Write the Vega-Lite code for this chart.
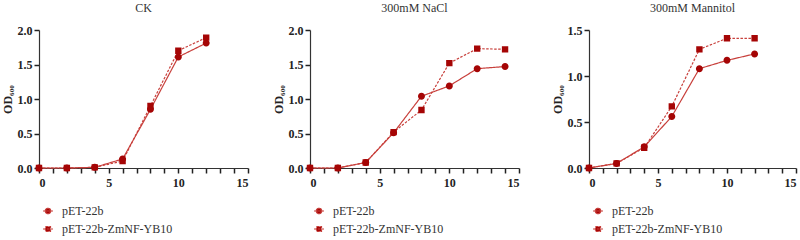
{
  "$schema": "https://vega.github.io/schema/vega-lite/v6.json",
  "padding": {"left": 1, "top": 2, "right": 2, "bottom": 0},
  "background": "white",
  "config": {
    "view": {"stroke": null},
    "title": {"font": "Liberation Serif", "fontSize": 12, "fontWeight": "normal", "color": "#333", "offset": 9},
    "legend": {"title": null, "orient": "bottom", "direction": "vertical", "offset": 14, "padding": 3, "labelFont": "Liberation Serif", "labelFontSize": 12, "labelColor": "#333",
      "symbolSize": 100, "symbolFillColor": "#a50505", "symbolStrokeColor": "#c8403c", "symbolStrokeWidth": 1.2, "symbolOpacity": 1, "rowPadding": 6, "labelOffset": 8}
  },
  "data": {"values": [
    {"cond": "CK", "series": "pET-22b", "t": 0, "od": 0},
    {"cond": "CK", "series": "pET-22b", "t": 2, "od": 0},
    {"cond": "CK", "series": "pET-22b", "t": 4, "od": 0.01},
    {"cond": "CK", "series": "pET-22b", "t": 6, "od": 0.13},
    {"cond": "CK", "series": "pET-22b", "t": 8, "od": 0.85},
    {"cond": "CK", "series": "pET-22b", "t": 10, "od": 1.61},
    {"cond": "CK", "series": "pET-22b", "t": 12, "od": 1.81},
    {"cond": "CK", "series": "pET-22b-ZmNF-YB10", "t": 0, "od": 0},
    {"cond": "CK", "series": "pET-22b-ZmNF-YB10", "t": 2, "od": 0},
    {"cond": "CK", "series": "pET-22b-ZmNF-YB10", "t": 4, "od": 0.01},
    {"cond": "CK", "series": "pET-22b-ZmNF-YB10", "t": 6, "od": 0.10},
    {"cond": "CK", "series": "pET-22b-ZmNF-YB10", "t": 8, "od": 0.90},
    {"cond": "CK", "series": "pET-22b-ZmNF-YB10", "t": 10, "od": 1.70},
    {"cond": "CK", "series": "pET-22b-ZmNF-YB10", "t": 12, "od": 1.89},
    {"cond": "NaCl", "series": "pET-22b", "t": 0, "od": 0},
    {"cond": "NaCl", "series": "pET-22b", "t": 2, "od": 0},
    {"cond": "NaCl", "series": "pET-22b", "t": 4, "od": 0.08},
    {"cond": "NaCl", "series": "pET-22b", "t": 6, "od": 0.51},
    {"cond": "NaCl", "series": "pET-22b", "t": 8, "od": 1.04},
    {"cond": "NaCl", "series": "pET-22b", "t": 10, "od": 1.19},
    {"cond": "NaCl", "series": "pET-22b", "t": 12, "od": 1.44},
    {"cond": "NaCl", "series": "pET-22b", "t": 14, "od": 1.47},
    {"cond": "NaCl", "series": "pET-22b-ZmNF-YB10", "t": 0, "od": 0},
    {"cond": "NaCl", "series": "pET-22b-ZmNF-YB10", "t": 2, "od": 0},
    {"cond": "NaCl", "series": "pET-22b-ZmNF-YB10", "t": 4, "od": 0.08},
    {"cond": "NaCl", "series": "pET-22b-ZmNF-YB10", "t": 6, "od": 0.52},
    {"cond": "NaCl", "series": "pET-22b-ZmNF-YB10", "t": 8, "od": 0.84},
    {"cond": "NaCl", "series": "pET-22b-ZmNF-YB10", "t": 10, "od": 1.52},
    {"cond": "NaCl", "series": "pET-22b-ZmNF-YB10", "t": 12, "od": 1.73},
    {"cond": "NaCl", "series": "pET-22b-ZmNF-YB10", "t": 14, "od": 1.72},
    {"cond": "Mannitol", "series": "pET-22b", "t": 0, "od": 0},
    {"cond": "Mannitol", "series": "pET-22b", "t": 2, "od": 0.05},
    {"cond": "Mannitol", "series": "pET-22b", "t": 4, "od": 0.23},
    {"cond": "Mannitol", "series": "pET-22b", "t": 6, "od": 0.56},
    {"cond": "Mannitol", "series": "pET-22b", "t": 8, "od": 1.08},
    {"cond": "Mannitol", "series": "pET-22b", "t": 10, "od": 1.17},
    {"cond": "Mannitol", "series": "pET-22b", "t": 12, "od": 1.24},
    {"cond": "Mannitol", "series": "pET-22b-ZmNF-YB10", "t": 0, "od": 0},
    {"cond": "Mannitol", "series": "pET-22b-ZmNF-YB10", "t": 2, "od": 0.05},
    {"cond": "Mannitol", "series": "pET-22b-ZmNF-YB10", "t": 4, "od": 0.22},
    {"cond": "Mannitol", "series": "pET-22b-ZmNF-YB10", "t": 6, "od": 0.67},
    {"cond": "Mannitol", "series": "pET-22b-ZmNF-YB10", "t": 8, "od": 1.29},
    {"cond": "Mannitol", "series": "pET-22b-ZmNF-YB10", "t": 10, "od": 1.41},
    {"cond": "Mannitol", "series": "pET-22b-ZmNF-YB10", "t": 12, "od": 1.41}
  ]},
  "resolve": {
    "scale": {"shape": "independent", "strokeDash": "independent", "y": "independent", "x": "independent"},
    "legend": {"shape": "independent", "strokeDash": "independent"}
  },
  "spacing": 23,
  "hconcat": [
    {
      "title": "CK",
      "width": 209, "height": 138,
      "transform": [{"filter": "datum.cond === 'CK'"}],
      "encoding": {
        "x": {"field": "t", "type": "quantitative", "scale": {"domain": [0, 15], "nice": false},
          "axis": {"title": null, "ticks": true, "tickColor": "#222", "tickWidth": 1.5, "tickSize": 5, "values": [0,1,2,3,4,5,6,7,8,9,10,11,12,13,14,15], "labelExpr": "datum.value % 5 === 0 ? datum.label : ''",
            "labelPadding": 4, "domainColor": "#333", "domainWidth": 1.2,
            "labelFont": "Liberation Serif", "labelFontSize": 12, "labelFontWeight": "bold", "labelColor": "#222", "grid": false}},
        "y": {"field": "od", "type": "quantitative", "scale": {"domain": [0, 2], "nice": false},
          "axis": {"title": "OD₆₀₀", "ticks": true, "tickColor": "#222", "tickWidth": 1.5, "values": [0, 0.5, 1, 1.5, 2], "format": ".1f", "tickSize": 5, "labelPadding": 2, "titlePadding": 3,
            "domainColor": "#333", "domainWidth": 1.2,
            "labelFont": "Liberation Serif", "labelFontSize": 12, "labelFontWeight": "bold", "labelColor": "#222",
            "titleFont": "Liberation Serif", "titleFontSize": 12, "titleFontWeight": "bold", "titleColor": "#222", "grid": false}}
      },
      "layer": [
        {"mark": {"type": "line", "color": "#c8403c", "strokeWidth": 1.2},
          "encoding": {"strokeDash": {"field": "series", "type": "nominal",
            "scale": {"domain": ["pET-22b", "pET-22b-ZmNF-YB10"], "range": [[1, 0], [2.5, 1.5]]},
            "legend": {"encode": {"symbols": {"update": {"stroke": {"value": "#c8403c"}, "strokeWidth": {"value": 1.2}}}}}}}},
        {"mark": {"type": "point", "filled": true, "color": "#a50505", "size": 162, "opacity": 1},
          "encoding": {"shape": {"field": "series", "type": "nominal",
            "scale": {"domain": ["pET-22b", "pET-22b-ZmNF-YB10"], "range": ["M-1,0H1M0.55,0A0.55,0.55,0,1,1,-0.55,0A0.55,0.55,0,1,1,0.55,0Z", "M-1,0H1M-0.5,-0.5H0.5V0.5H-0.5Z"]},
            "legend": {"encode": {"symbols": {"update": {"stroke": {"value": "#c8403c"}, "strokeWidth": {"value": 1.2}}}}}}}}
      ]
    },
    {
      "spacing": 31,
      "resolve": {
        "scale": {"shape": "independent", "strokeDash": "independent", "y": "independent", "x": "independent"},
        "legend": {"shape": "independent", "strokeDash": "independent"}
      },
      "hconcat": [
        {
          "title": "300mM NaCl",
          "width": 209, "height": 138,
          "transform": [{"filter": "datum.cond === 'NaCl'"}],
          "encoding": {
            "x": {"field": "t", "type": "quantitative", "scale": {"domain": [0, 15], "nice": false},
              "axis": {"title": null, "ticks": true, "values": [0,1,2,3,4,5,6,7,8,9,10,11,12,13,14,15], "labelExpr": "datum.value % 5 === 0 ? datum.label : ''", "tickSize": 5, "tickWidth": 1.5, "labelPadding": 4, "domainColor": "#333", "domainWidth": 1.2, "tickColor": "#222",
                "labelFont": "Liberation Serif", "labelFontSize": 12, "labelFontWeight": "bold", "labelColor": "#222", "grid": false}},
            "y": {"field": "od", "type": "quantitative", "scale": {"domain": [0, 2], "nice": false},
              "axis": {"title": "OD₆₀₀", "ticks": true, "values": [0, 0.5, 1, 1.5, 2], "format": ".1f", "tickSize": 5, "tickWidth": 1.5, "labelPadding": 2, "titlePadding": 3,
                "domainColor": "#333", "domainWidth": 1.2, "tickColor": "#222",
                "labelFont": "Liberation Serif", "labelFontSize": 12, "labelFontWeight": "bold", "labelColor": "#222",
                "titleFont": "Liberation Serif", "titleFontSize": 12, "titleFontWeight": "bold", "titleColor": "#222", "grid": false}}
          },
          "layer": [
            {"mark": {"type": "line", "color": "#c8403c", "strokeWidth": 1.2},
              "encoding": {"strokeDash": {"field": "series", "type": "nominal",
                "scale": {"domain": ["pET-22b", "pET-22b-ZmNF-YB10"], "range": [[1, 0], [2.5, 1.5]]},
                "legend": {"encode": {"symbols": {"update": {"stroke": {"value": "#c8403c"}, "strokeWidth": {"value": 1.2}}}}}}}},
            {"mark": {"type": "point", "filled": true, "color": "#a50505", "size": 162, "opacity": 1},
              "encoding": {"shape": {"field": "series", "type": "nominal",
                "scale": {"domain": ["pET-22b", "pET-22b-ZmNF-YB10"], "range": ["M-1,0H1M0.55,0A0.55,0.55,0,1,1,-0.55,0A0.55,0.55,0,1,1,0.55,0Z", "M-1,0H1M-0.5,-0.5H0.5V0.5H-0.5Z"]},
                "legend": {"encode": {"symbols": {"update": {"stroke": {"value": "#c8403c"}, "strokeWidth": {"value": 1.2}}}}}}}}
          ]
        },
        {
          "title": "300mM Mannitol",
          "width": 207, "height": 138,
          "transform": [{"filter": "datum.cond === 'Mannitol'"}],
          "encoding": {
            "x": {"field": "t", "type": "quantitative", "scale": {"domain": [0, 15], "nice": false},
              "axis": {"title": null, "ticks": true, "values": [0,1,2,3,4,5,6,7,8,9,10,11,12,13,14,15], "labelExpr": "datum.value % 5 === 0 ? datum.label : ''", "tickSize": 5, "tickWidth": 1.5, "labelPadding": 4, "domainColor": "#333", "domainWidth": 1.2, "tickColor": "#222",
                "labelFont": "Liberation Serif", "labelFontSize": 12, "labelFontWeight": "bold", "labelColor": "#222", "grid": false}},
            "y": {"field": "od", "type": "quantitative", "scale": {"domain": [0, 1.5], "nice": false},
              "axis": {"title": "OD₆₀₀", "ticks": true, "values": [0, 0.5, 1, 1.5], "format": ".1f", "tickSize": 5, "tickWidth": 1.5, "labelPadding": 2, "titlePadding": 3,
                "domainColor": "#333", "domainWidth": 1.2, "tickColor": "#222",
                "labelFont": "Liberation Serif", "labelFontSize": 12, "labelFontWeight": "bold", "labelColor": "#222",
                "titleFont": "Liberation Serif", "titleFontSize": 12, "titleFontWeight": "bold", "titleColor": "#222", "grid": false}}
          },
          "layer": [
            {"mark": {"type": "line", "color": "#c8403c", "strokeWidth": 1.2},
              "encoding": {"strokeDash": {"field": "series", "type": "nominal",
                "scale": {"domain": ["pET-22b", "pET-22b-ZmNF-YB10"], "range": [[1, 0], [2.5, 1.5]]},
                "legend": {"encode": {"symbols": {"update": {"stroke": {"value": "#c8403c"}, "strokeWidth": {"value": 1.2}}}}}}}},
            {"mark": {"type": "point", "filled": true, "color": "#a50505", "size": 162, "opacity": 1},
              "encoding": {"shape": {"field": "series", "type": "nominal",
                "scale": {"domain": ["pET-22b", "pET-22b-ZmNF-YB10"], "range": ["M-1,0H1M0.55,0A0.55,0.55,0,1,1,-0.55,0A0.55,0.55,0,1,1,0.55,0Z", "M-1,0H1M-0.5,-0.5H0.5V0.5H-0.5Z"]},
                "legend": {"encode": {"symbols": {"update": {"stroke": {"value": "#c8403c"}, "strokeWidth": {"value": 1.2}}}}}}}}
          ]
        }
      ]
    }
  ]
}
